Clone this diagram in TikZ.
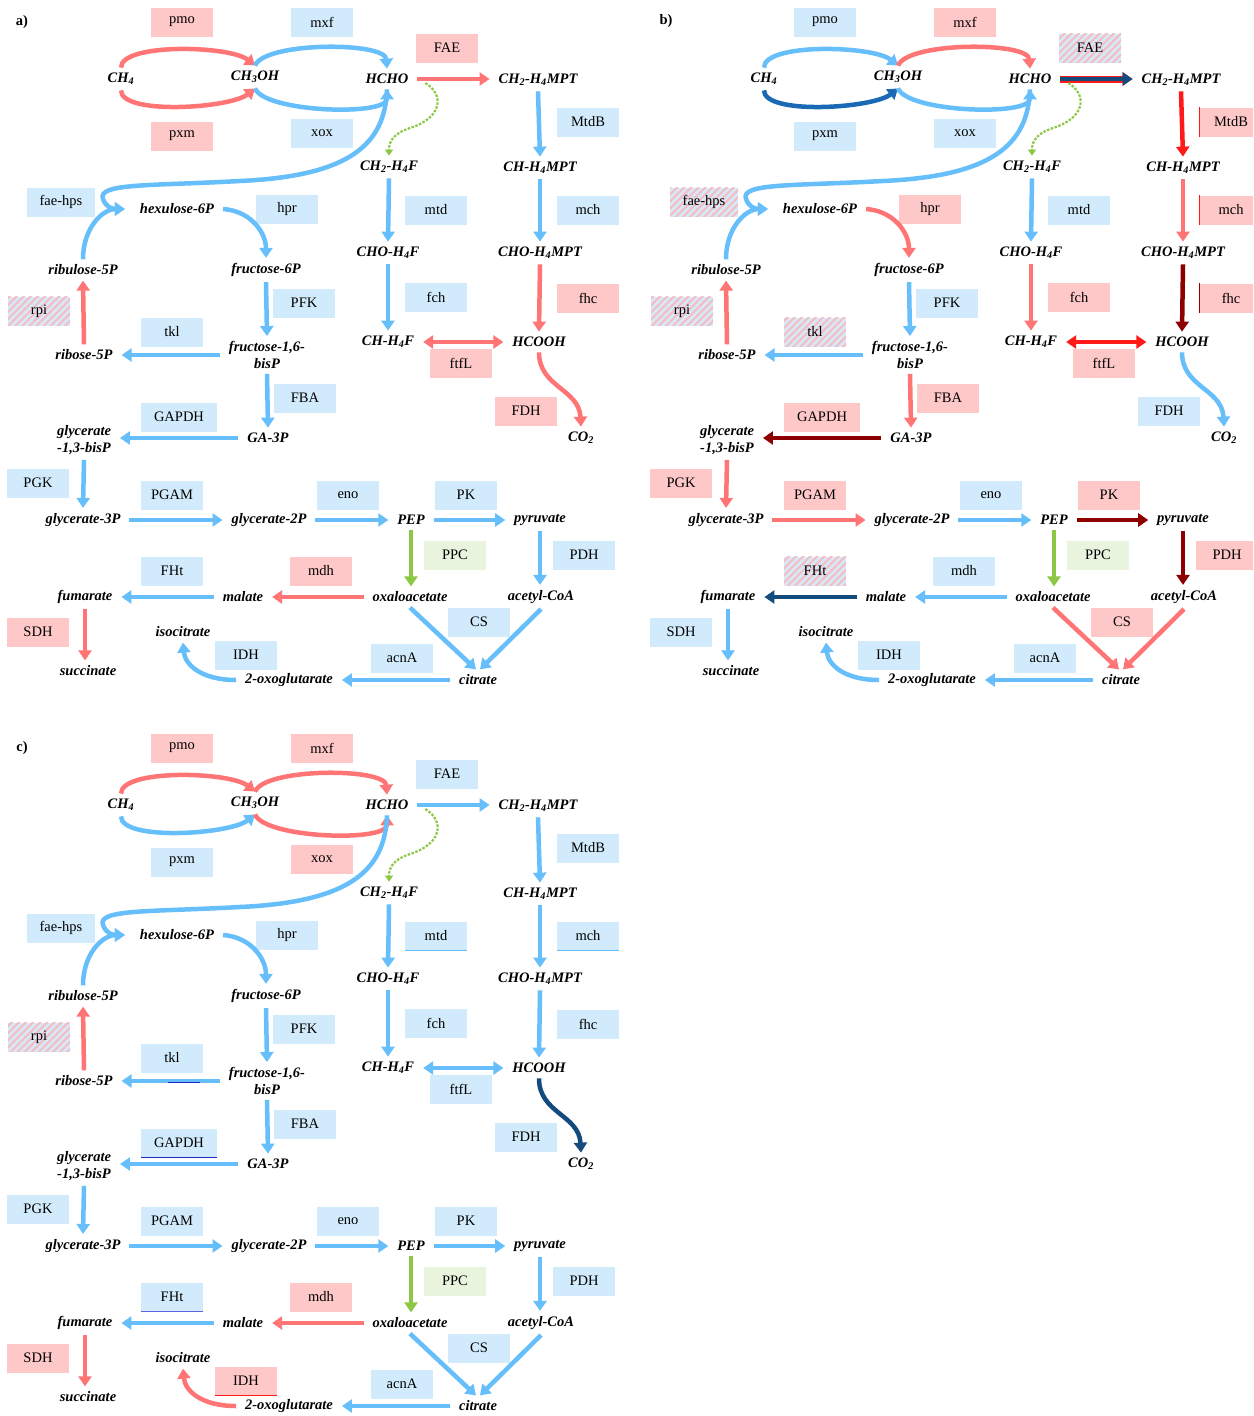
\documentclass[tikz,border=0pt]{standalone}
\usepackage{fontspec}
\setmainfont{Liberation Serif}
\usetikzlibrary{arrows.meta,patterns.meta}
\definecolor{cB}{RGB}{102,190,250}
\definecolor{cR}{RGB}{255,117,117}
\definecolor{cDR}{RGB}{140,0,0}
\definecolor{cBR}{RGB}{255,25,25}
\definecolor{cDB}{RGB}{20,75,125}
\definecolor{cMB}{RGB}{25,105,180}
\definecolor{cG}{RGB}{140,200,70}
\definecolor{fB}{RGB}{210,235,252}
\definecolor{fR}{RGB}{255,200,200}
\definecolor{fG}{RGB}{232,244,222}
\definecolor{hbg}{RGB}{215,232,248}
\definecolor{hpink}{RGB}{245,188,194}
\definecolor{uBlue}{RGB}{30,40,200}
\definecolor{uPurple}{RGB}{100,100,225}
\tikzset{
  flowarrow/.style={line width=4.5pt,-{Triangle[length=10pt,width=13pt]}},
  flowboth/.style={line width=4.5pt,{Triangle[length=10pt,width=13pt]}-{Triangle[length=10pt,width=13pt]}},
  gdash/.style={draw=cG,line width=2.2pt,dash pattern=on 2.5pt off 1.5pt,-{Triangle[length=6pt,width=8pt]}},
  met/.style={font=\fontsize{14.5}{16.5}\selectfont\bfseries\itshape,inner sep=1pt,outer xsep=8pt,outer ysep=4.5pt,align=center},
  enz/.style={font=\fontsize{14.5}{16.5}\selectfont,minimum width=62pt,minimum height=29pt,inner sep=0pt},
  plabel/.style={font=\fontsize{14.5}{16.5}\selectfont\bfseries},
  edgeline/.style={line width=1.2pt},
  arB/.style={draw=cB}, arR/.style={draw=cR}, arDR/.style={draw=cDR}, arBR/.style={draw=cBR},
  arDB/.style={draw=cDB}, arMB/.style={draw=cMB}, arG/.style={draw=cG},
  arFAEb/.style={draw=cDB,preaction={draw=cBR,line width=7pt}},
  bxB/.style={fill=fB}, bxR/.style={fill=fR}, bxG/.style={fill=fG},
  bxH/.style={fill=hbg,postaction={pattern={Lines[angle=45,distance=5pt,line width=2pt]},pattern color=hpink}},
  pw/.style n args={3}{A-#1/.style={#2},E-#1/.style={#3}},
  pwB/.style={pw={#1}{arB}{bxB}},
  pwR/.style={pw={#1}{arR}{bxR}},
}
\newcommand\pwpanel{%
  % metabolites
  \node[met] (CH4) at (121,79) {CH\textsubscript{4}};
  \node[met] (CH3OH) at (255,77) {CH\textsubscript{3}OH};
  \node[met] (HCHO) at (387,79) {HCHO};
  \node[met] (CH2H4MPT) at (538,80) {CH\textsubscript{2}-H\textsubscript{4}MPT};
  \node[met] (CH2H4F) at (389,167) {CH\textsubscript{2}-H\textsubscript{4}F};
  \node[met] (CHH4MPT) at (540,168) {CH-H\textsubscript{4}MPT};
  \node[met] (hex) at (177,209) {hexulose-6P};
  \node[met] (rib) at (83,270) {ribulose-5P};
  \node[met] (fru) at (266,270) {fructose-6P};
  \node[met] (CHOH4F) at (388,253) {CHO-H\textsubscript{4}F};
  \node[met] (CHOH4MPT) at (540,253) {CHO-H\textsubscript{4}MPT};
  \node[met] (ribose) at (84,355) {ribose-5P};
  \node[met] (fbp) at (267,355) {fructose-1,6-\\bisP};
  \node[met] (CHH4F) at (388,342) {CH-H\textsubscript{4}F};
  \node[met] (HCOOH) at (539,342) {HCOOH};
  \node[met] (g13) at (84,440) {glycerate\\-1,3-bisP};
  \node[met] (GA3P) at (268,438) {GA-3P};
  \node[met] (CO2) at (581,438) {CO\textsubscript{2}};
  \node[met] (g3p) at (83,520) {glycerate-3P};
  \node[met] (g2p) at (269,520) {glycerate-2P};
  \node[met] (PEP) at (411,520) {PEP};
  \node[met] (pyr) at (540,520) {pyruvate};
  \node[met] (fum) at (85,597) {fumarate};
  \node[met] (mal) at (243,597) {malate};
  \node[met] (oaa) at (410,597) {oxaloacetate};
  \node[met] (acoa) at (541,597) {acetyl-CoA};
  \node[met] (iso) at (183,632) {isocitrate};
  \node[met] (suc) at (88,671) {succinate};
  \node[met] (oxo) at (289,680) {2-oxoglutarate};
  \node[met] (cit) at (478,680) {citrate};
  % enzymes
  \node[enz,E-pmo] (z-pmo) at (182,22) {pmo};
  \node[enz,E-mxf] (z-mxf) at (322,22) {mxf};
  \node[enz,E-fae] (z-fae) at (447,48) {FAE};
  \node[enz,E-pxm] (z-pxm) at (182,136) {pxm};
  \node[enz,E-xox] (z-xox) at (322,133) {xox};
  \node[enz,E-mtdb] (z-mtdb) at (588,122) {MtdB};
  \node[enz,E-faehps,minimum width=68pt] (z-faehps) at (61,202) {fae-hps};
  \node[enz,E-hpr] (z-hpr) at (287,209) {hpr};
  \node[enz,E-mtd] (z-mtd) at (436,210) {mtd};
  \node[enz,E-mch] (z-mch) at (588,210) {mch};
  \node[enz,E-rpi] (z-rpi) at (39,311) {rpi};
  \node[enz,E-pfk] (z-pfk) at (304,303) {PFK};
  \node[enz,E-fch] (z-fch) at (436,297) {fch};
  \node[enz,E-fhc] (z-fhc) at (588,298) {fhc};
  \node[enz,E-tkl] (z-tkl) at (172,332) {tkl};
  \node[enz,E-ftfl] (z-ftfl) at (461,363) {ftfL};
  \node[enz,E-fba] (z-fba) at (305,398) {FBA};
  \node[enz,E-fdh] (z-fdh) at (526,411) {FDH};
  \node[enz,E-gapdh,minimum width=76pt] (z-gapdh) at (179,417) {GAPDH};
  \node[enz,E-pgk] (z-pgk) at (38,483) {PGK};
  \node[enz,E-pgam] (z-pgam) at (172,495) {PGAM};
  \node[enz,E-eno] (z-eno) at (348,495) {eno};
  \node[enz,E-pk] (z-pk) at (466,495) {PK};
  \node[enz,E-ppc] (z-ppc) at (455,555) {PPC};
  \node[enz,E-pdh] (z-pdh) at (584,555) {PDH};
  \node[enz,E-fht] (z-fht) at (172,571) {FHt};
  \node[enz,E-mdh] (z-mdh) at (321,571) {mdh};
  \node[enz,E-sdh] (z-sdh) at (38,632) {SDH};
  \node[enz,E-cs] (z-cs) at (479,622) {CS};
  \node[enz,E-idh] (z-idh) at (246,655) {IDH};
  \node[enz,E-acna] (z-acna) at (402,658) {acnA};
  % arrows
  \draw[flowarrow,A-pmo] (CH4.north) .. controls +(0,-25) and +(-25,-20) .. (CH3OH.north);
  \draw[flowarrow,A-pxm] (CH4.south) .. controls +(0,25) and +(-25,20) .. (CH3OH.south);
  \draw[flowarrow,A-mxf] (CH3OH.north) .. controls +(10,-24) and +(-2,-27) .. (HCHO.north);
  \draw[flowarrow,A-xox] (CH3OH.south) .. controls +(10,24) and +(0,27) .. (HCHO.south);
  \draw[flowarrow,A-fae] (HCHO.east) -- (HCHO.east -| CH2H4MPT.west);
  \draw[gdash] ([xshift=8pt,yshift=-4pt]HCHO.east) .. controls (445,95) and (442,118) .. (410,128) .. controls (395,133) and (389,140) .. (CH2H4F.north);
  \draw[flowarrow,A-faehps] (HCHO.south) .. controls +(-2,55) and (350,176) .. (240,181) .. controls (150,186) and (97,183) .. (103,199) .. controls (106,207) and (112,209) .. ([xshift=-6pt]hex.west);
  \draw[flowarrow,A-faehps] (rib.north) .. controls +(0,-32) and +(-22,0) .. ([xshift=-6pt]hex.west);
  \draw[flowarrow,A-hpr] (hex.east) .. controls +(28,2) and +(0,-25) .. (fru.north);
  \draw[flowarrow,A-mtdb] (CH2H4MPT.south) -- (CHH4MPT.north);
  \draw[flowarrow,A-mtd] (CH2H4F.south) -- (CHOH4F.north);
  \draw[flowarrow,A-mch] (CHH4MPT.south) -- (CHOH4MPT.north);
  \draw[flowarrow,A-fch] (CHOH4F.south) -- (CHH4F.north);
  \draw[flowarrow,A-fhc] (CHOH4MPT.south) -- (HCOOH.north);
  \draw[flowboth,A-ftfl] (CHH4F) -- (HCOOH);
  \draw[flowarrow,A-fdh] (HCOOH.south) .. controls +(0,35) and +(-2,-38) .. (CO2.north);
  \draw[flowarrow,A-pfk] (fru.south) -- (fbp.north);
  \draw[flowarrow,A-tkl] (fbp) -- (ribose);
  \draw[flowarrow,A-rpi] (ribose.north) -- (rib.south);
  \draw[flowarrow,A-fba] (fbp.south) -- (GA3P.north);
  \draw[flowarrow,A-gapdh] (GA3P.west) -- (GA3P.west -| g13.east);
  \draw[flowarrow,A-pgk] (g13.south) -- (g3p.north);
  \draw[flowarrow,A-pgam] (g3p) -- (g2p);
  \draw[flowarrow,A-eno] (g2p) -- (PEP);
  \draw[flowarrow,A-pk] (PEP) -- (pyr);
  \draw[flowarrow,A-ppc] (PEP.south) -- (oaa.north -| PEP.south);
  \draw[flowarrow,A-pdh] (pyr.south) -- (acoa.north -| pyr.south);
  \draw[flowarrow,A-mdh] (oaa) -- (mal);
  \draw[flowarrow,A-fht] (mal) -- (fum);
  \draw[flowarrow,A-sdh] (fum.south) -- (suc.north -| fum.south);
  \draw[flowarrow,A-cs] (oaa.south) -- ([xshift=-2pt]cit.north);
  \draw[flowarrow,A-cs] (acoa.south) -- ([xshift=2pt]cit.north);
  \draw[flowarrow,A-acna] (cit) -- (oxo);
  \draw[flowarrow,A-idh] (oxo.west) .. controls +(-35,0) and +(2,22) .. (iso.south);
}
\begin{document}
\begin{tikzpicture}[x=1pt,y=-1pt]
\clip (0,0) rectangle (1253,1416);
\fill[white] (0,0) rectangle (1253,1416);
% panel a
\begin{scope}[name prefix=a-,
  pwB/.list={mxf,xox,faehps,mtdb,hpr,mtd,mch,pfk,fch,tkl,fba,gapdh,pgk,pgam,eno,pk,pdh,fht,cs,idh,acna},
  pwR/.list={pmo,pxm,fae,fhc,ftfl,fdh,mdh,sdh},
  pw={rpi}{arR}{bxH}, pw={ppc}{arG}{bxG}]
\pwpanel
\end{scope}
% panel b
\begin{scope}[shift={(643,0)},name prefix=b-,
  pwB/.list={pmo,xox,mtd,pfk,fdh,eno,mdh,sdh,idh,acna},
  pwR/.list={mxf,hpr,mch,fch,fba,pgk,pgam,cs},
  pw={pxm}{arMB}{bxB}, pw={fae}{arFAEb}{bxH}, pw={faehps}{arB}{bxH},
  pw={mtdb}{arBR}{bxR}, pw={fhc}{arDR}{bxR}, pw={rpi}{arR}{bxH},
  pw={tkl}{arB}{bxH}, pw={ftfl}{arBR}{bxR}, pw={gapdh}{arDR}{bxR},
  pw={pk}{arDR}{bxR}, pw={ppc}{arG}{bxG}, pw={pdh}{arDR}{bxR},
  pw={fht}{arDB}{bxH}]
\pwpanel
\draw[edgeline,draw=cBR] (z-mtdb.north west) -- (z-mtdb.south west);
\draw[edgeline,draw=cBR] (z-mch.north west) -- (z-mch.south west);
\draw[edgeline,draw=cDR] (z-fhc.north west) -- (z-fhc.south west);
\end{scope}
% panel c
\begin{scope}[shift={(0,726)},name prefix=c-,
  pwB/.list={pxm,fae,faehps,mtdb,hpr,mtd,mch,pfk,fch,fhc,tkl,ftfl,fba,gapdh,pgk,pgam,eno,pk,pdh,fht,cs,acna},
  pwR/.list={pmo,mxf,xox,mdh,sdh,idh},
  pw={rpi}{arR}{bxH}, pw={ppc}{arG}{bxG}, pw={fdh}{arDB}{bxB}]
\pwpanel
\draw[edgeline,draw=uBlue] (z-gapdh.south west) -- (z-gapdh.south east);
\draw[edgeline,draw=uPurple] (z-fht.south west) -- (z-fht.south east);
\draw[edgeline,draw=cBR] (z-idh.south west) -- (z-idh.south east);
\draw[edgeline,draw=cB] (z-mtd.south west) -- (z-mtd.south east);
\draw[edgeline,draw=cB] (z-mch.south west) -- (z-mch.south east);
\draw[line width=1.5pt,draw=uBlue] ([xshift=-4pt,yshift=-1.5pt]z-tkl.south |- ribose.east) -- ([xshift=28pt,yshift=-1.5pt]z-tkl.south |- ribose.east);
\end{scope}
\node[plabel] (la) at (22,22) {a)};
\node[plabel] (lb) at (666,21) {b)};
\node[plabel] (lc) at (22,748) {c)};
\end{tikzpicture}
\end{document}
